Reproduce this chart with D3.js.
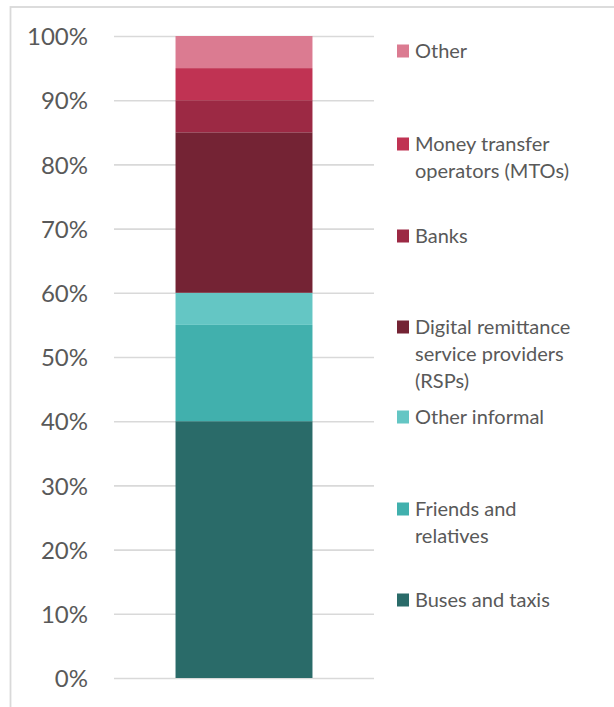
<!DOCTYPE html>
<html>
<head>
<meta charset="utf-8">
<script src="https://cdn.jsdelivr.net/npm/d3@7/dist/d3.min.js"></script>
<style>
  html, body { margin: 0; padding: 0; background: #ffffff; }
  svg { display: block; font-family: Lato, "Open Sans", sans-serif; }
</style>
</head>
<body>
<svg id="chart" width="614" height="707"></svg>
<script>
// Remittance channel shares, stacked bottom to top
const categories = [
  "Buses and taxis",
  "Friends and relatives",
  "Other informal",
  "Digital remittance service providers (RSPs)",
  "Banks",
  "Money transfer operators (MTOs)",
  "Other"
];
const values = [40, 15, 5, 25, 5, 5, 5];
const colors = ["#2a6b69", "#41b0ad", "#64c6c4", "#742334", "#9c2944", "#c03353", "#db7b91"];
// Legend text, broken into lines as drawn
const legendLines = [
  ["Buses and taxis"],
  ["Friends and", "relatives"],
  ["Other informal"],
  ["Digital remittance", "service providers", "(RSPs)"],
  ["Banks"],
  ["Money transfer", "operators (MTOs)"],
  ["Other"]
];
// Vertical centre of each legend entry's first line
const legendY = [600, 509, 417, 327, 236, 144, 51];
const yTicks = [0, 10, 20, 30, 40, 50, 60, 70, 80, 90, 100];
const barGroup = ["All"];

const svg = d3.select("#chart");
const textColor = "#595959";
const gridColor = "#d9d9d9";

// Chart frame
svg.append("rect")
  .attr("x", 10.5).attr("y", 7).attr("width", 700).attr("height", 800)
  .attr("fill", "none").attr("stroke", gridColor).attr("stroke-width", 1.8);

const plot = { left: 114, right: 374, top: 36, bottom: 678 };

const x = d3.scaleBand().domain(barGroup).range([plot.left, plot.right]).padding(0.31);
const y = d3.scaleLinear().domain([0, 100]).range([plot.bottom, plot.top]);

// Gridlines and percentage labels
const yAxis = d3.axisLeft(y)
  .tickValues(yTicks)
  .tickSize(-(plot.right - plot.left))
  .tickPadding(26)
  .tickFormat(d => d + "%");

const gAxis = svg.append("g")
  .attr("transform", `translate(${plot.left},0)`)
  .call(yAxis);
gAxis.select(".domain").remove();
gAxis.selectAll(".tick line").attr("stroke", gridColor).attr("stroke-width", 1.6);
gAxis.selectAll(".tick text")
  .attr("fill", textColor)
  .attr("font-size", 24)
  .attr("font-family", "Lato, sans-serif")
  .attr("dy", "0.36em");

// Stacked segments
const stackData = [Object.fromEntries(categories.map((c, i) => [c, values[i]]))];
stackData[0].group = barGroup[0];
const series = d3.stack().keys(categories)(stackData);

svg.append("g").selectAll("rect")
  .data(series)
  .join("rect")
  .attr("x", x(barGroup[0]))
  .attr("width", x.bandwidth())
  .attr("y", d => y(d[0][1]))
  .attr("height", d => y(d[0][0]) - y(d[0][1]))
  .attr("fill", (d, i) => colors[i]);

// Legend
const legend = svg.append("g");
categories.forEach((c, i) => {
  const g = legend.append("g");
  g.append("rect")
    .attr("x", 397).attr("y", legendY[i] - 6.5)
    .attr("width", 12).attr("height", 13)
    .attr("fill", colors[i]);
  const t = g.append("text")
    .attr("x", 415)
    .attr("fill", textColor)
    .attr("font-size", 20)
    .attr("font-family", "Lato, sans-serif");
  legendLines[i].forEach((line, j) => {
    t.append("tspan")
      .attr("x", 415)
      .attr("y", legendY[i] + j * 27)
      .attr("dy", "0.36em")
      .text(line);
  });
});
</script>
</body>
</html>
